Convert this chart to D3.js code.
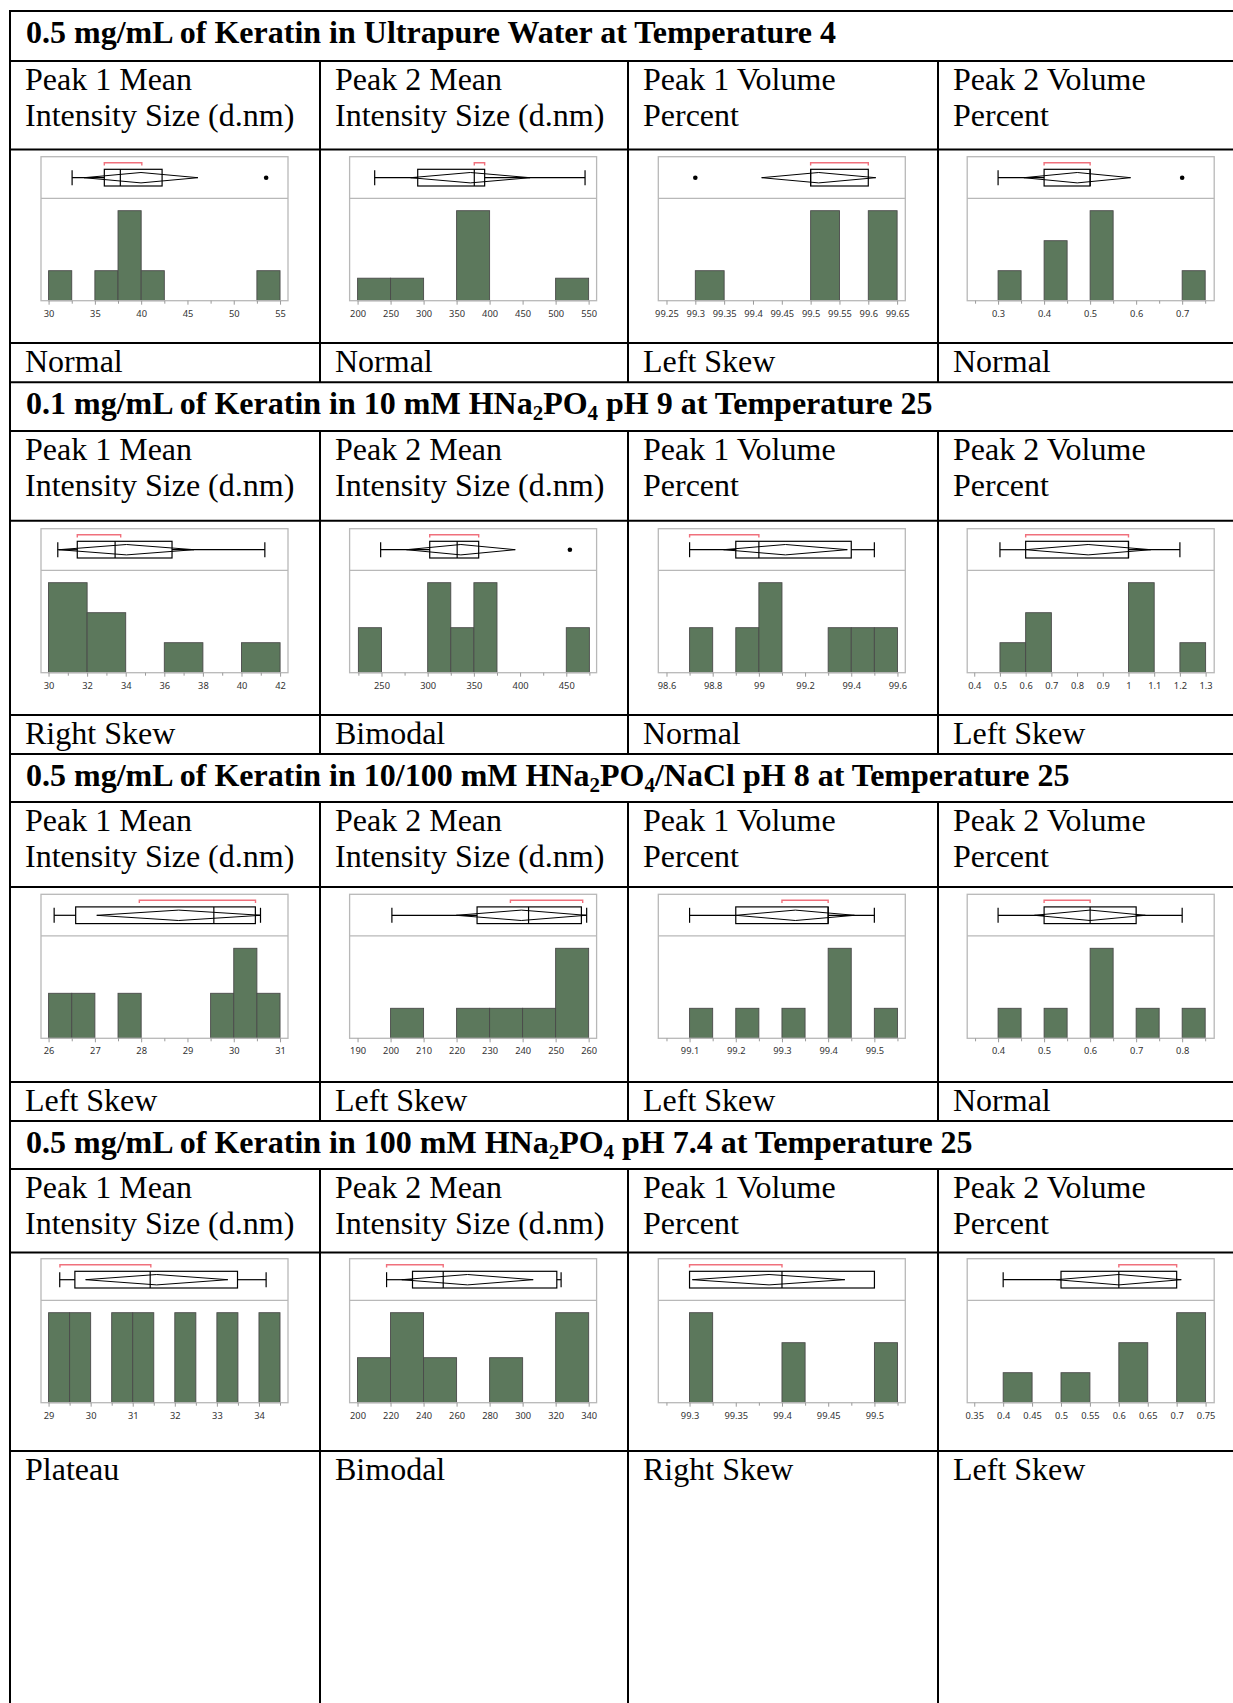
<!DOCTYPE html>
<html><head><meta charset="utf-8">
<script src="https://cdn.jsdelivr.net/npm/d3@7"></script>
<style>html,body{margin:0;padding:0;background:#fff;} svg{display:block}</style>
</head><body><svg id="c" width="1233" height="1703"></svg>
<script>
// ---------------- DATA ----------------
const sectionTitles = [
  "0.5 mg/mL of Keratin in Ultrapure Water at Temperature 4",
  "0.1 mg/mL of Keratin in 10 mM HNa_2PO_4 pH 9 at Temperature 25",
  "0.5 mg/mL of Keratin in 10/100 mM HNa_2PO_4/NaCl pH 8 at Temperature 25",
  "0.5 mg/mL of Keratin in 100 mM HNa_2PO_4 pH 7.4 at Temperature 25"
];
const columnHeaders = [
  ["Peak 1 Mean", "Intensity Size (d.nm)"],
  ["Peak 2 Mean", "Intensity Size (d.nm)"],
  ["Peak 1 Volume", "Percent"],
  ["Peak 2 Volume", "Percent"]
];
const shapeLabels = [
  ["Normal", "Normal", "Left Skew", "Normal"],
  ["Right Skew", "Bimodal", "Normal", "Left Skew"],
  ["Left Skew", "Left Skew", "Left Skew", "Normal"],
  ["Plateau", "Bimodal", "Right Skew", "Left Skew"]
];
// panels in row-major order (4 sections x 4 measures)
const axisDomains = [
  [29.18, 55.86], [187.9, 562.1], [99.2358, 99.6642], [0.2329, 0.7696],
  [29.61, 42.41], [215.5, 482.8], [98.5645, 99.634], [0.3726, 1.3334],
  [25.836, 31.172], [187.59, 262.41], [99.0323, 99.567], [0.3329, 0.8696],
  [28.82, 34.69], [195.2, 344.8], [99.2662, 99.5334], [0.3378, 0.7649]
];
const tickLabels = [
  [30, 35, 40, 45, 50, 55], [200, 250, 300, 350, 400, 450, 500, 550],
  [99.25, 99.3, 99.35, 99.4, 99.45, 99.5, 99.55, 99.6, 99.65], [0.3, 0.4, 0.5, 0.6, 0.7],
  [30, 32, 34, 36, 38, 40, 42], [250, 300, 350, 400, 450],
  [98.6, 98.8, 99, 99.2, 99.4, 99.6], [0.4, 0.5, 0.6, 0.7, 0.8, 0.9, 1, 1.1, 1.2, 1.3],
  [26, 27, 28, 29, 30, 31], [190, 200, 210, 220, 230, 240, 250, 260],
  [99.1, 99.2, 99.3, 99.4, 99.5], [0.4, 0.5, 0.6, 0.7, 0.8],
  [29, 30, 31, 32, 33, 34], [200, 220, 240, 260, 280, 300, 320, 340],
  [99.3, 99.35, 99.4, 99.45, 99.5], [0.35, 0.4, 0.45, 0.5, 0.55, 0.6, 0.65, 0.7, 0.75]
];
const minorTickSteps = [
  2.5, null, null, 0.05,
  1, 25, 0.1, null,
  0.5, null, 0.05, 0.05,
  0.5, null, 0.025, null
];
// histogram bins: [lower, upper, count]
const histBins = [
  [[30, 32.5, 1], [35, 37.5, 1], [37.5, 40, 3], [40, 42.5, 1], [52.5, 55, 1]],
  [[200, 250, 1], [250, 300, 1], [350, 400, 4], [500, 550, 1]],
  [[99.3, 99.35, 1], [99.5, 99.55, 3], [99.6, 99.65, 3]],
  [[0.3, 0.35, 1], [0.4, 0.45, 2], [0.5, 0.55, 3], [0.7, 0.75, 1]],
  [[30, 32, 3], [32, 34, 2], [36, 38, 1], [40, 42, 1]],
  [[225, 250, 1], [300, 325, 2], [325, 350, 1], [350, 375, 2], [450, 475, 1]],
  [[98.7, 98.8, 1], [98.9, 99, 1], [99, 99.1, 2], [99.3, 99.4, 1], [99.4, 99.5, 1], [99.5, 99.6, 1]],
  [[0.5, 0.6, 1], [0.6, 0.7, 2], [1.0, 1.1, 3], [1.2, 1.3, 1]],
  [[26, 26.5, 1], [26.5, 27, 1], [27.5, 28, 1], [29.5, 30, 1], [30, 30.5, 2], [30.5, 31, 1]],
  [[200, 210, 1], [220, 230, 1], [230, 240, 1], [240, 250, 1], [250, 260, 3]],
  [[99.1, 99.15, 1], [99.2, 99.25, 1], [99.3, 99.35, 1], [99.4, 99.45, 3], [99.5, 99.55, 1]],
  [[0.4, 0.45, 1], [0.5, 0.55, 1], [0.6, 0.65, 3], [0.7, 0.75, 1], [0.8, 0.85, 1]],
  [[29, 29.5, 1], [29.5, 30, 1], [30.5, 31, 1], [31, 31.5, 1], [32, 32.5, 1], [33, 33.5, 1], [34, 34.5, 1]],
  [[200, 220, 1], [220, 240, 2], [240, 260, 1], [280, 300, 1], [320, 340, 2]],
  [[99.3, 99.325, 3], [99.4, 99.425, 2], [99.5, 99.525, 2]],
  [[0.4, 0.45, 1], [0.5, 0.55, 1], [0.6, 0.65, 2], [0.7, 0.75, 3]]
];
// outlier box plot: [whisker low, Q1, median, Q3, whisker high]
const boxStats = [
  [32.54, 36.02, 37.75, 42.26, 42.26], [225.9, 291.1, 376.8, 392.5, 544.6],
  [99.5, 99.5, 99.5, 99.6, 99.6], [0.3, 0.4, 0.5, 0.5, 0.5],
  [30.48, 31.49, 33.45, 36.40, 41.21], [249.1, 302.2, 331.9, 355.2, 355.2],
  [98.7, 98.9, 99.0, 99.4, 99.5], [0.5, 0.6, 1.0, 1.0, 1.2],
  [26.12, 26.585, 29.57, 30.467, 30.578], [200.4, 226.2, 241.8, 257.8, 259.4],
  [99.1, 99.2, 99.4, 99.4, 99.5], [0.4, 0.5, 0.6, 0.7, 0.8],
  [29.265, 29.625, 31.415, 33.49, 34.17], [217.6, 233.3, 251.9, 320.7, 323.3],
  [99.3, 99.3, 99.4, 99.5, 99.5], [0.4, 0.5, 0.6, 0.7, 0.7]
];
// means diamond: [lower CI, mean, upper CI]
const meanDiamonds = [
  [33.83, 39.98, 46.13], [280.3, 370.8, 461.3], [99.415, 99.514, 99.613], [0.356, 0.472, 0.588],
  [30.54, 34.04, 37.54], [277, 335.9, 394.8], [98.847, 99.115, 99.383], [0.599, 0.843, 1.087],
  [27.04, 28.81, 30.587], [219.9, 239.6, 259.2], [99.2, 99.329, 99.457], [0.479, 0.6, 0.72],
  [29.88, 31.57, 33.26], [226.8, 266.6, 306.4], [99.303, 99.386, 99.468], [0.492, 0.6, 0.708]
];
// shortest half bracket: [low, high]
const shortestHalf = [
  [36.02, 40.07], [376.8, 392.5], [99.5, 99.6], [0.4, 0.5],
  [31.49, 33.74], [302.2, 355.2], [98.7, 99.0], [0.6, 1.0],
  [27.96, 30.47], [236.3, 258.2], [99.3, 99.4], [0.5, 0.6],
  [29.27, 31.43], [217.6, 251.9], [99.3, 99.4], [0.6, 0.7]
];
const outliers = [
  [53.5], [], [99.3], [0.7],
  [], [453.9], [], [],
  [], [], [], [],
  [], [], [], []
];

// ---------------- LAYOUT ----------------
const W = 1233, H = 1703;
const colX = [10, 320, 628, 938];
const tableRight = 1245;
const sectionTop = [11, 382.3, 754, 1121];
const colHeadTop = [61, 431, 802, 1169];
const chartTop = [149.5, 520.7, 887, 1252.5];
const labelTop = [343, 715, 1082, 1451];
const frameLeft = [41, 349.6, 658.3, 967.2];
const frameTop = [156.7, 528.7, 894.3, 1258.7];
const frameW = 247;
const serif = "'Liberation Serif','Times New Roman',serif";
const sans = "'Noto Sans','Open Sans',sans-serif";

const svg = d3.select("#c");
svg.append("rect").attr("width", W).attr("height", H).attr("fill", "#fff");

// ---- text ----
function subText(sel, str) {
  const parts = str.split(/(_\d)/).filter(s => s.length);
  let shifted = false;
  parts.forEach(p => {
    if (p[0] === "_") {
      sel.append("tspan").attr("dy", 6).attr("font-size", 21).text(p.slice(1));
      shifted = true;
    } else {
      const t = sel.append("tspan").text(p);
      if (shifted) { t.attr("dy", -6); shifted = false; }
    }
  });
}

sectionTitles.forEach((t, r) => {
  const tx = svg.append("text").attr("x", 26).attr("y", sectionTop[r] + 31.5)
    .attr("font-family", serif).attr("font-size", 32).attr("font-weight", "bold").attr("fill", "#000");
  subText(tx, t);
});
for (let r = 0; r < 4; r++) {
  for (let c = 0; c < 4; c++) {
    const t = svg.append("text").attr("font-family", serif).attr("font-size", 32).attr("fill", "#000");
    columnHeaders[c].forEach((line, k) => {
      t.append("tspan").attr("x", colX[c] + 15).attr("y", colHeadTop[r] + 28.8 + k * 36.6).text(line);
    });
    svg.append("text").attr("x", colX[c] + 15).attr("y", labelTop[r] + 29)
      .attr("font-family", serif).attr("font-size", 32).attr("fill", "#000").text(shapeLabels[r][c]);
  }
}

// ---- table lines ----
const hLines = [];
for (let r = 0; r < 4; r++) hLines.push(sectionTop[r], colHeadTop[r], chartTop[r], labelTop[r]);
const grid = svg.append("g").attr("stroke", "#000").attr("stroke-width", 2);
hLines.forEach(y => grid.append("line").attr("x1", colX[0] - 1).attr("x2", tableRight).attr("y1", y).attr("y2", y));
grid.append("line").attr("x1", colX[0]).attr("x2", colX[0]).attr("y1", sectionTop[0] - 1).attr("y2", H + 5);
for (let r = 0; r < 4; r++) {
  const yEnd = r < 3 ? sectionTop[r + 1] : H + 5;
  for (let c = 1; c < 4; c++) {
    grid.append("line").attr("x1", colX[c]).attr("x2", colX[c]).attr("y1", colHeadTop[r]).attr("y2", yEnd);
  }
}

// ---- panels ----
function drawPanel(i, fx, fy) {
  const g = svg.append("g");
  const x = d3.scaleLinear().domain(axisDomains[i]).range([fx, fx + frameW]);
  const axisY = fy + 144, sepY = fy + 41.6, topY = fy + 54;
  const maxC = d3.max(histBins[i], d => d[2]);
  const y = d3.scaleLinear().domain([0, maxC]).range([axisY, topY]);

  // bars
  g.selectAll(null).data(histBins[i]).join("rect")
    .attr("x", d => x(d[0])).attr("width", d => x(d[1]) - x(d[0]))
    .attr("y", d => y(d[2])).attr("height", d => axisY - y(d[2]))
    .attr("fill", "#5c785c").attr("stroke", "#4a4a4a").attr("stroke-width", 0.9);

  // frame
  g.append("rect").attr("x", fx).attr("y", fy).attr("width", frameW).attr("height", 144)
    .attr("fill", "none").attr("stroke", "#b8b8b8").attr("stroke-width", 1.3);
  g.append("line").attr("x1", fx).attr("x2", fx + frameW).attr("y1", sepY).attr("y2", sepY)
    .attr("stroke", "#b8b8b8").attr("stroke-width", 1.3);

  // axis
  const ax = g.append("g").attr("transform", `translate(0,${axisY})`)
    .call(d3.axisBottom(x).tickValues(tickLabels[i]).tickSize(4).tickSizeOuter(0).tickPadding(5.5)
      .tickFormat(d => String(d)));
  ax.select(".domain").remove();
  ax.selectAll(".tick line").attr("stroke", "#9a9a9a");
  ax.selectAll(".tick text").attr("font-family", sans).attr("font-size", 9.3).attr("fill", "#333");
  const step = minorTickSteps[i];
  if (step) {
    const [d0, d1] = axisDomains[i];
    const minors = d3.range(Math.ceil(d0 / step - 1e-9), Math.floor(d1 / step + 1e-9) + 1)
      .map(k => +(k * step).toFixed(6))
      .filter(v => !tickLabels[i].some(t => Math.abs(t - v) < step / 10));
    const mx = g.append("g").attr("transform", `translate(0,${axisY})`)
      .call(d3.axisBottom(x).tickValues(minors).tickSize(3).tickSizeOuter(0).tickFormat(""));
    mx.select(".domain").remove();
    mx.selectAll(".tick line").attr("stroke", "#9a9a9a");
  }

  // box plot
  const cy = fy + 21, bTop = fy + 12.6, bBot = fy + 29.3;
  const [wlo, q1, med, q3, whi] = boxStats[i];
  const bp = g.append("g").attr("stroke", "#000").attr("fill", "none").attr("stroke-width", 1.2);
  if (wlo < q1) {
    bp.append("line").attr("x1", x(wlo)).attr("x2", x(q1)).attr("y1", cy).attr("y2", cy);
    bp.append("line").attr("x1", x(wlo)).attr("x2", x(wlo)).attr("y1", cy - 7.5).attr("y2", cy + 7.5);
  }
  if (whi > q3) {
    bp.append("line").attr("x1", x(q3)).attr("x2", x(whi)).attr("y1", cy).attr("y2", cy);
    bp.append("line").attr("x1", x(whi)).attr("x2", x(whi)).attr("y1", cy - 7.5).attr("y2", cy + 7.5);
  }
  bp.append("rect").attr("x", x(q1)).attr("y", bTop).attr("width", x(q3) - x(q1)).attr("height", bBot - bTop);
  bp.append("line").attr("x1", x(med)).attr("x2", x(med)).attr("y1", bTop).attr("y2", bBot);
  const [dl, dm, dh] = meanDiamonds[i];
  bp.append("path").attr("stroke-width", 1)
    .attr("d", `M${x(dl)},${cy}L${x(dm)},${cy - 5.2}L${x(dh)},${cy}L${x(dm)},${cy + 5.2}Z`);
  g.selectAll(null).data(outliers[i]).join("circle")
    .attr("cx", d => x(d)).attr("cy", cy).attr("r", 2.3).attr("fill", "#000");
  const [sl, sh] = shortestHalf[i];
  g.append("path").attr("fill", "none").attr("stroke", "#f0707c").attr("stroke-width", 1.4)
    .attr("d", `M${x(sl)},${fy + 8.8}V${fy + 6}H${x(sh)}V${fy + 8.8}`);
}

for (let r = 0; r < 4; r++) for (let c = 0; c < 4; c++) drawPanel(r * 4 + c, frameLeft[c], frameTop[r]);
</script>
</body></html>
